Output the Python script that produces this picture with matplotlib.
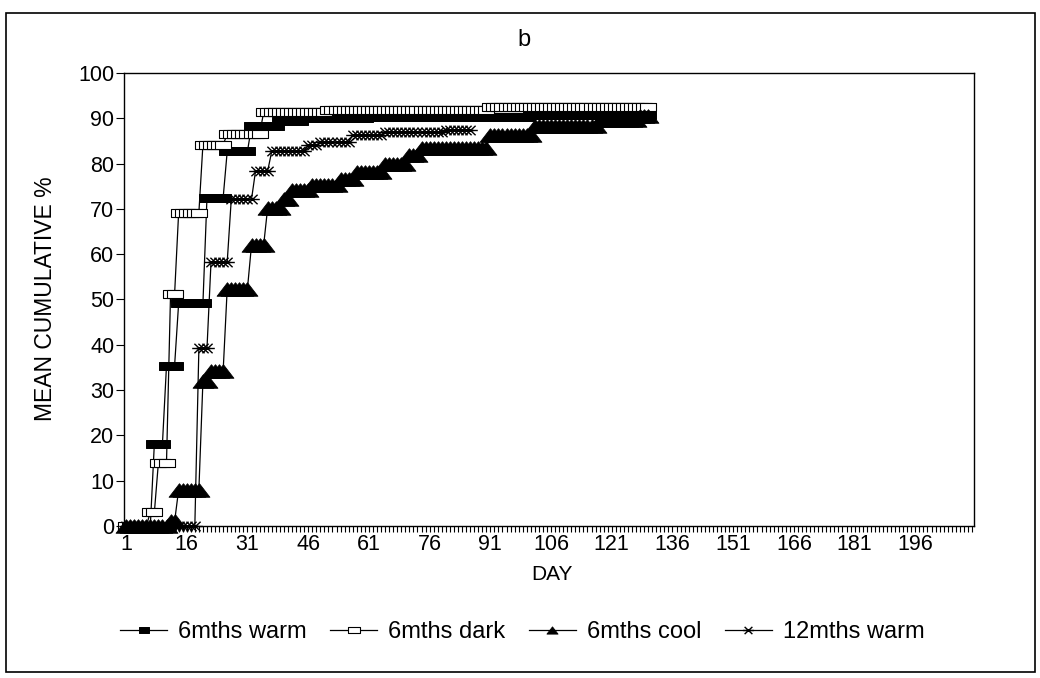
import numpy as np
import matplotlib
matplotlib.use("Agg")
import matplotlib.pyplot as plt
from matplotlib.path import Path
from matplotlib.lines import Line2D
from matplotlib.patches import Rectangle

plt.rcParams['font.family'] = ['Liberation Sans', 'DejaVu Sans']

# each series is a step curve: first day of every step and the value held from that day
warm_days = [1, 8, 11, 14, 21, 26, 32, 39, 45, 61, 101]
warm_vals = [0, 18.2, 35.4, 49.2, 72.5, 82.7, 88.2, 89.4, 90.0, 90.3, 90.8]
warm_end = 130

dark_days = [1, 7, 9, 12, 14, 20, 26, 35, 51, 91]
dark_vals = [0, 3.0, 14.0, 51.2, 69.2, 84.2, 86.5, 91.3, 91.8, 92.4]
dark_end = 130

cool_days = [1, 12, 14, 20, 22, 26, 32, 36, 40, 42, 47, 54, 58, 65, 71, 74, 91, 102, 118, 128]
cool_vals = [0, 1.0, 8.0, 32.0, 34.3, 52.4, 62.0, 70.3, 72.2, 74.2, 75.3, 76.7, 78.1, 80.0,
             82.0, 83.5, 86.3, 88.3, 89.6, 90.5]
cool_end = 130

warm12_days = [1, 19, 22, 27, 33, 37, 46, 49, 57, 65, 80]
warm12_vals = [0, 39.2, 58.3, 72.1, 78.4, 82.7, 84.0, 84.7, 86.4, 86.9, 87.5]
warm12_end = 86

labels = ["6mths warm", "6mths dark", "6mths cool", "12mths warm"]
day_labels = list(range(1, 197, 15))
last_day = 210


def expand(starts, vals, end):
    lengths = np.diff(starts + [end + 1])
    return np.arange(1, end + 1), np.repeat(vals, lengths)


# marker shapes like the old charting package (wide boxes, wide triangles, asterisks)
rect = Path([(-1, -0.55), (1, -0.55), (1, 0.55), (-1, 0.55), (-1, -0.55)],
            [Path.MOVETO, Path.LINETO, Path.LINETO, Path.LINETO, Path.CLOSEPOLY])
tri = Path([(-1, -0.65), (1, -0.65), (0, 0.65), (-1, -0.65)],
           [Path.MOVETO, Path.LINETO, Path.LINETO, Path.CLOSEPOLY])
ast = Path([(-1, 0), (1, 0), (-0.7, 0.65), (0.7, -0.65), (-0.7, -0.65), (0.7, 0.65)],
           [Path.MOVETO, Path.LINETO, Path.MOVETO, Path.LINETO, Path.MOVETO, Path.LINETO])

styles = [
    dict(marker=rect, ms=11.5, mfc='black', mec='black', mew=0.7),
    dict(marker=rect, ms=11.5, mfc='white', mec='black', mew=0.8),
    dict(marker=tri, ms=15, mfc='black', mec='black', mew=0.6),
    dict(marker=ast, ms=10.5, mfc='none', mec='black', mew=1.0),
]
legend_sizes = [7, 8, 8, 8]

fig = plt.figure(figsize=(10.4, 6.78), dpi=100)
ax = fig.add_axes([124 / 1040, 1 - 526 / 678, 850 / 1040, 453 / 678])

series = [(warm_days, warm_vals, warm_end), (dark_days, dark_vals, dark_end),
          (cool_days, cool_vals, cool_end), (warm12_days, warm12_vals, warm12_end)]
for (starts, vals, end), st in zip(series, styles):
    x, y = expand(starts, vals, end)
    ax.plot(x, y, color='black', lw=0.9, clip_on=False, **st)

ax.set_xlim(0.5, last_day + 0.5)
ax.set_ylim(0, 100)
ax.set_xticks(day_labels)
ax.set_xticks(np.arange(1, last_day + 1), minor=True)
ax.set_yticks(range(0, 101, 10))
ax.tick_params(axis='x', which='both', direction='out', length=4.5, width=0.8,
               labelsize=15.5, pad=1)
ax.tick_params(axis='y', direction='out', length=6, width=0.8, labelsize=15.5, pad=1)
for s in ax.spines.values():
    s.set_linewidth(1.0)

fig.text(524 / 1040, 1 - 40 / 678, "b", ha='center', va='center', fontsize=17)
fig.text(46 / 1040, 1 - 299 / 678, "MEAN CUMULATIVE %", rotation=90,
         ha='center', va='center', fontsize=16.5)
fig.text(552 / 1040, 1 - 574 / 678, "DAY", ha='center', va='center', fontsize=15)

handles = []
for st, ms in zip(styles, legend_sizes):
    h = dict(st)
    h['ms'] = ms
    handles.append(Line2D([0], [0], color='black', lw=0.9, **h))
fig.legend(handles, labels, loc='center', bbox_to_anchor=(0.502, 1 - 632 / 678), ncol=4,
           frameon=False, fontsize=17, handlelength=2.0, handletextpad=0.45,
           columnspacing=1.0, borderpad=0)

# scanned page frame round the whole figure
fig.patches.append(Rectangle((6 / 1040, 6 / 678), 1029 / 1040, 659 / 678,
                             transform=fig.transFigure, fill=False, lw=1.2,
                             edgecolor='black'))

fig.savefig("out.png", dpi=100)
